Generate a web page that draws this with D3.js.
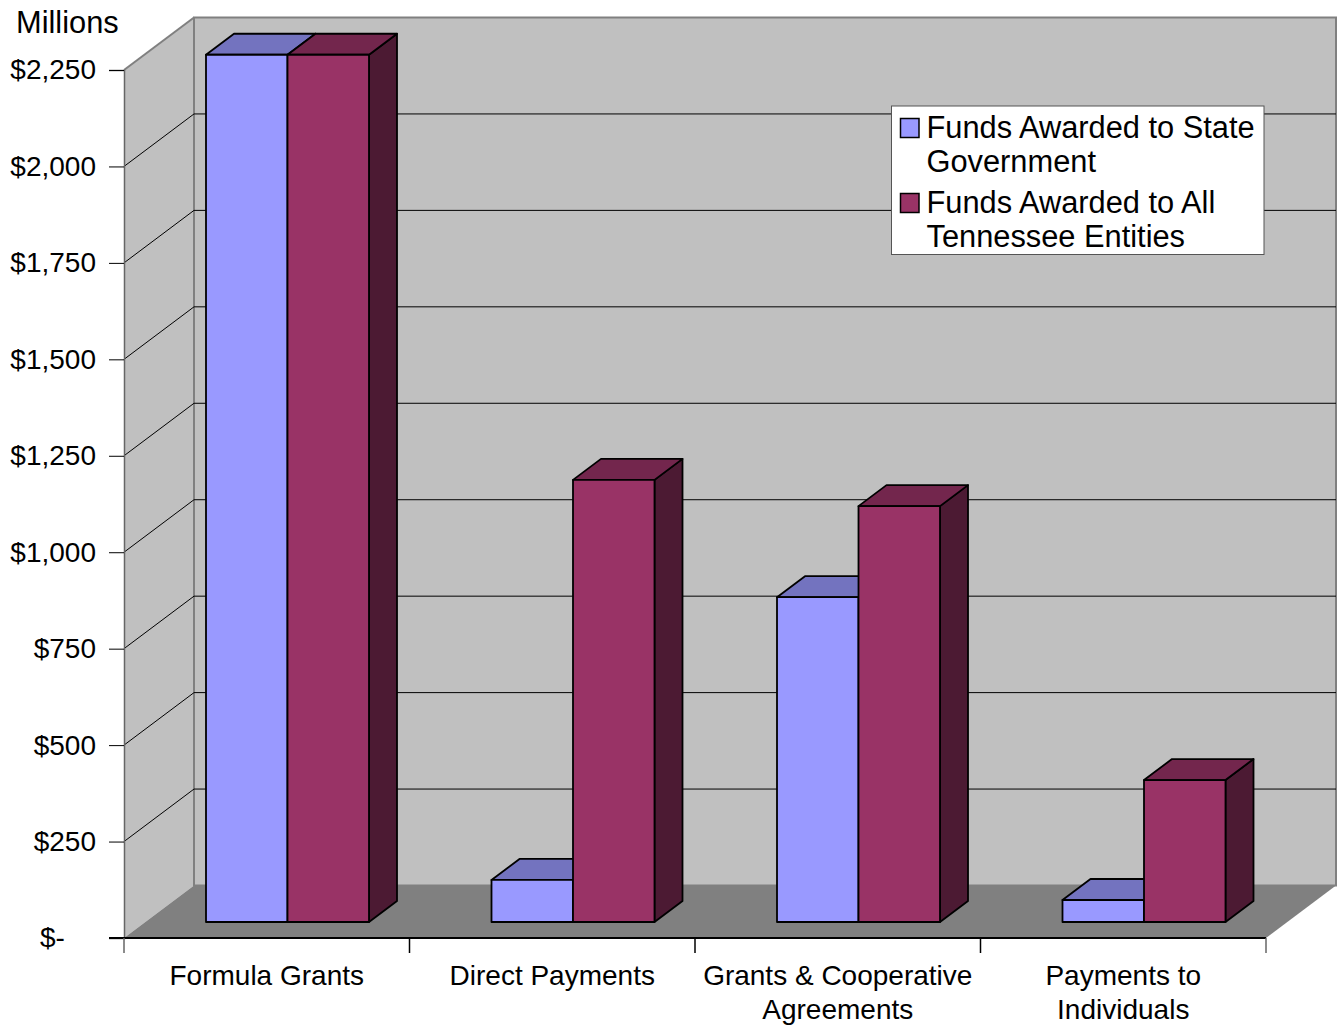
<!DOCTYPE html>
<html>
<head>
<meta charset="utf-8">
<script src="https://cdn.jsdelivr.net/npm/d3@7"></script>
<style>
  html, body { margin: 0; padding: 0; background: #fff; }
  svg { display: block; }
  text { font-family: "Liberation Sans", Arial, sans-serif; fill: #000; }
</style>
</head>
<body>
<div id="chart"></div>
<script>
// data (millions of dollars)
const categories = ["Formula Grants", "Direct Payments", "Grants & Cooperative Agreements", "Payments to Individuals"];
const categoryLines = [["Formula Grants"], ["Direct Payments"], ["Grants & Cooperative", "Agreements"], ["Payments to", "Individuals"]];
const seriesNames = ["Funds Awarded to State Government", "Funds Awarded to All Tennessee Entities"];
const legendLines = [["Funds Awarded to State", "Government"], ["Funds Awarded to All", "Tennessee Entities"]];
const stateFunds = [2248, 109, 842, 57];
const allFunds = [2248, 1146, 1078, 368];
const tickValues = [0, 250, 500, 750, 1000, 1250, 1500, 1750, 2000, 2250];

const seriesValues = [stateFunds, allFunds];
const faceColors = ["#9999ff", "#993366"];
const topColors = ["#7373bf", "#73264d"];
const sideColors = ["#4c4c80", "#4c1a33"];

const width = 1343, height = 1025;
const plotLeft = 124, plotRight = 1266, plotBottom = 938, plotTop = 70;
// depth of the 3d box and of the bars
const wallDx = 70, wallDy = -52.5;
const barDx = 28, barDy = -21;
const barShiftY = -16;

const svg = d3.select("#chart")
  .append("svg")
    .attr("width", width)
    .attr("height", height);

const y = d3.scaleLinear().domain([0, 2250]).range([plotBottom, plotTop]);
const x0 = d3.scaleBand().domain(categories).range([plotLeft, plotRight]);
const x1 = d3.scaleBand().domain(seriesNames).range([82, 245]);

const poly = pts => pts.map(p => p.join(",")).join(" ");

// left wall
svg.append("polygon")
  .attr("points", poly([[plotLeft, y(2250)], [plotLeft + wallDx, y(2250) + wallDy], [plotLeft + wallDx, plotBottom + wallDy], [plotLeft, plotBottom]]))
  .attr("fill", "#c0c0c0");

// back wall
svg.append("rect")
  .attr("x", plotLeft + wallDx)
  .attr("y", y(2250) + wallDy)
  .attr("width", plotRight - plotLeft)
  .attr("height", plotBottom - y(2250))
  .attr("fill", "#c0c0c0")
  .attr("stroke", "#808080")
  .attr("stroke-width", 2);

svg.append("line")
  .attr("x1", plotLeft).attr("y1", y(2250))
  .attr("x2", plotLeft + wallDx).attr("y2", y(2250) + wallDy)
  .attr("stroke", "#808080")
  .attr("stroke-width", 2);

// grid lines on both walls
const grid = svg.append("g").attr("fill", "none").attr("stroke", "#000").attr("stroke-width", 1);
tickValues.filter(d => d > 0 && d < 2250).forEach(d => {
  grid.append("path")
    .attr("d", d3.line()([[plotLeft, y(d)], [plotLeft + wallDx, y(d) + wallDy], [plotRight + wallDx, y(d) + wallDy]]));
});

// floor
svg.append("polygon")
  .attr("points", poly([[plotLeft, plotBottom], [plotRight, plotBottom], [plotRight + wallDx, plotBottom + wallDy], [plotLeft + wallDx, plotBottom + wallDy]]))
  .attr("fill", "#808080");

// Y axis
const yAxis = svg.append("g")
  .attr("transform", "translate(" + plotLeft + ",0)")
  .call(d3.axisLeft(y)
    .tickValues(tickValues)
    .tickSize(15)
    .tickPadding(13)
    .tickFormat(d => d === 0 ? "$-" : d3.format("$,")(d)));
yAxis.select(".domain").attr("stroke", "#666").attr("stroke-width", 1.5);
yAxis.selectAll("line").attr("stroke", "#000").attr("stroke-width", 1);
yAxis.selectAll("text")
  .style("font-size", "28px")
  .attr("fill", "#000")
  .attr("text-anchor", d => d === 0 ? "start" : "end")
  .attr("x", d => d === 0 ? -84 : -28);

// bars
const cat = svg.selectAll("g.cat")
  .data(categories)
  .enter()
  .append("g")
    .attr("class", "cat");

cat.each(function(c, i) {
  const g = d3.select(this);
  seriesNames.forEach((s, j) => {
    const xa = x0(c) + x1(s);
    const xb = xa + x1.bandwidth();
    const yt = y(seriesValues[j][i]) + barShiftY;
    const yb = y(0) + barShiftY;
    g.append("polygon")
      .attr("points", poly([[xb, yt], [xb + barDx, yt + barDy], [xb + barDx, yb + barDy], [xb, yb]]))
      .attr("fill", sideColors[j]);
    g.append("polygon")
      .attr("points", poly([[xa, yt], [xa + barDx, yt + barDy], [xb + barDx, yt + barDy], [xb, yt]]))
      .attr("fill", topColors[j]);
    g.append("rect")
      .attr("x", xa)
      .attr("y", yt)
      .attr("width", xb - xa)
      .attr("height", yb - yt)
      .attr("fill", faceColors[j]);
    g.selectAll("polygon, rect")
      .attr("stroke", "#000")
      .attr("stroke-width", 1.8)
      .attr("stroke-linejoin", "round");
  });
});

// X axis, ticks sit on the category boundaries
const xAxis = svg.append("g").attr("transform", "translate(0," + plotBottom + ")");
xAxis.append("line")
  .attr("x1", plotLeft - 15).attr("x2", plotRight)
  .attr("stroke", "#000").attr("stroke-width", 2);
xAxis.selectAll("line.tick")
  .data(categories.map(c => x0(c)).concat([plotRight]))
  .enter()
  .append("line")
    .attr("class", "tick")
    .attr("x1", d => d).attr("x2", d => d)
    .attr("y1", 0).attr("y2", 15)
    .attr("stroke", (d, i) => i === 0 || i === 4 ? "#666" : "#000")
    .attr("stroke-width", 1.5);

categories.forEach((c, i) => {
  categoryLines[i].forEach((line, k) => {
    svg.append("text")
      .attr("x", x0(c) + x0.bandwidth() / 2)
      .attr("y", 985 + k * 34)
      .attr("text-anchor", "middle")
      .style("font-size", "28px")
      .text(line);
  });
});

// unit label
svg.append("text")
  .attr("x", 16).attr("y", 33)
  .style("font-size", "30.8px")
  .text("Millions");

// legend
svg.append("rect")
  .attr("x", 891.5).attr("y", 106)
  .attr("width", 372.5).attr("height", 148.5)
  .attr("fill", "#fff")
  .attr("stroke", "#555")
  .attr("stroke-width", 1);

const legendY = [138, 213];
seriesNames.forEach((s, j) => {
  svg.append("rect")
    .attr("x", 900.5).attr("y", legendY[j] - 19.5)
    .attr("width", 18.5).attr("height", 19)
    .attr("fill", faceColors[j])
    .attr("stroke", "#000")
    .attr("stroke-width", 1.5);
  legendLines[j].forEach((line, k) => {
    svg.append("text")
      .attr("x", 926.5)
      .attr("y", legendY[j] + k * 33.5)
      .style("font-size", "30.8px")
      .text(line);
  });
});
</script>
</body>
</html>
